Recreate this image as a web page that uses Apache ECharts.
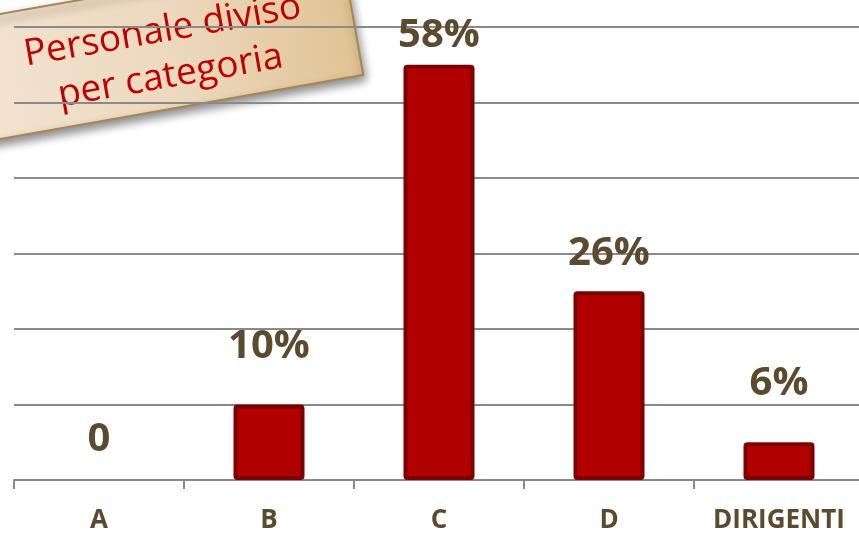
<!DOCTYPE html>
<html>
<head>
<meta charset="utf-8">
<title>Personale diviso per categoria</title>
<script src="https://cdn.jsdelivr.net/npm/echarts@6/dist/echarts.min.js"></script>
<style>
  html, body { margin: 0; padding: 0; background: #fff; }
  #chart { width: 859px; height: 535px; }
</style>
</head>
<body>
<div id="chart"></div>
<script>
// dati
const categories = ['A', 'B', 'C', 'D', 'DIRIGENTI'];
const values = [0, 10, 55, 25, 5];
const percentLabels = ['0', '10%', '58%', '26%', '6%'];
const noteLines = ['Personale diviso', 'per categoria'];

// distanza etichetta-barra (solo stile)
const labelGaps = [20, 38, 9, 18, 39];

const textColor = '#5c4a2e';
const gridColor = '#8a8a8a';

let myChart = echarts.init(document.getElementById('chart'));

let option = {
  animation: false,
  grid: {
    left: 14,
    top: 27,
    width: 850,
    bottom: 55,
    outerBoundsMode: 'none'
  },
  xAxis: {
    type: 'category',
    data: categories,
    boundaryGap: true,
    axisLine: { show: true, lineStyle: { color: gridColor, width: 2 } },
    axisTick: {
      show: true,
      interval: 0,
      alignWithLabel: false,
      length: 9,
      lineStyle: { color: gridColor, width: 2 }
    },
    axisLabel: {
      interval: 0,
      hideOverlap: false,
      color: textColor,
      fontFamily: 'Open Sans',
      fontWeight: 'bold',
      fontSize: 26,
      margin: 28
    }
  },
  yAxis: {
    type: 'value',
    min: 0,
    max: 60,
    interval: 10,
    axisLabel: { show: false },
    axisLine: { show: false },
    axisTick: { show: false },
    splitLine: { lineStyle: { color: gridColor, width: 2 } }
  },
  series: [
    {
      type: 'bar',
      barWidth: 71,
      data: values.map((v, i) => ({
        value: v,
        itemStyle: { borderWidth: v === 0 ? 0 : 4 },
        label: { distance: labelGaps[i] }
      })),
      itemStyle: {
        color: '#b00000',
        borderColor: '#7d0000',
        borderWidth: 4,
        borderRadius: 2
      },
      label: {
        show: true,
        position: 'top',
        color: textColor,
        fontFamily: 'Open Sans',
        fontWeight: 'bold',
        fontSize: 40,
        formatter: p => percentLabels[p.dataIndex]
      }
    }
  ],
  graphic: [
    {
      type: 'group',
      x: 136,
      y: 53,
      rotation: 10 * Math.PI / 180,
      z: 100,
      children: [
        {
          type: 'rect',
          shape: { x: -220, y: -62, width: 440, height: 123 },
          style: {
            fill: new echarts.graphic.LinearGradient(0, 0, 1, 0, [
              { offset: 0, color: '#f4e6d6' },
              { offset: 0.6, color: '#ecd8bd' },
              { offset: 1, color: '#e0c393' }
            ]),
            stroke: '#a88650',
            lineWidth: 2,
            shadowBlur: 10,
            shadowOffsetY: 5,
            shadowOffsetX: 2,
            shadowColor: 'rgba(0,0,0,0.45)'
          }
        },
        {
          type: 'text',
          x: 30,
          y: 6,
          style: {
            text: noteLines.join('\n'),
            fill: '#c00000',
            fontFamily: 'Open Sans',
            fontSize: 37,
            lineHeight: 46,
            align: 'center',
            verticalAlign: 'middle'
          }
        }
      ]
    }
  ]
};

myChart.setOption(option);
</script>
</body>
</html>
